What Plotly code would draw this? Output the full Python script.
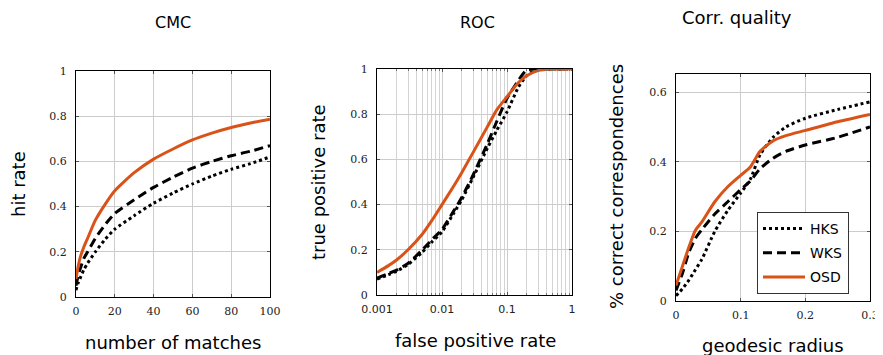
import plotly.graph_objects as go

ORANGE = "#D95319"

# CMC
cmc_x = [0, 1, 2, 4, 6, 10, 15, 20, 30, 40, 50, 60, 70, 80, 90, 100]
cmc_osd = [0.08, 0.13, 0.17, 0.22, 0.26, 0.34, 0.41, 0.47, 0.55, 0.61, 0.655, 0.695, 0.725, 0.75, 0.77, 0.787]
cmc_wks = [0.05, 0.09, 0.12, 0.17, 0.2, 0.26, 0.32, 0.37, 0.43, 0.485, 0.53, 0.57, 0.6, 0.625, 0.645, 0.67]
cmc_hks = [0.03, 0.06, 0.08, 0.12, 0.15, 0.2, 0.255, 0.3, 0.36, 0.415, 0.46, 0.5, 0.535, 0.565, 0.59, 0.62]

# ROC
roc_x = [0.001, 0.0015, 0.002, 0.003, 0.005, 0.007, 0.01, 0.015, 0.02, 0.03, 0.05, 0.07, 0.1, 0.15, 0.2, 0.3, 0.5, 1.0]
roc_osd = [0.1, 0.13, 0.155, 0.2, 0.27, 0.33, 0.4, 0.48, 0.54, 0.63, 0.745, 0.82, 0.877, 0.94, 0.97, 0.993, 1.0, 1.0]
roc_wks = [0.075, 0.095, 0.11, 0.14, 0.2, 0.245, 0.29, 0.37, 0.43, 0.53, 0.67, 0.77, 0.87, 0.95, 0.995, 1.0, 1.0, 1.0]
roc_hks = [0.07, 0.09, 0.105, 0.135, 0.19, 0.235, 0.28, 0.36, 0.42, 0.52, 0.65, 0.73, 0.81, 0.92, 0.97, 1.0, 1.0, 1.0]

# Correspondence quality
cq_x = [0, 0.01, 0.02, 0.03, 0.04, 0.06, 0.08, 0.1, 0.115, 0.13, 0.15, 0.17, 0.2, 0.25, 0.3]
cq_osd = [0.045, 0.1, 0.155, 0.203, 0.227, 0.285, 0.328, 0.361, 0.385, 0.43, 0.46, 0.475, 0.49, 0.515, 0.536]
cq_wks = [0.03, 0.08, 0.14, 0.18, 0.205, 0.25, 0.285, 0.32, 0.345, 0.38, 0.41, 0.43, 0.448, 0.47, 0.5]
cq_hks = [0.015, 0.035, 0.06, 0.09, 0.12, 0.2, 0.26, 0.31, 0.35, 0.42, 0.47, 0.5, 0.525, 0.55, 0.572]

fig = go.Figure()

DOT = "3px,3px"
DASH = "9px,5px"

def add(x, y, n, name, color, dash, show):
    fig.add_trace(go.Scatter(
        x=x, y=y, mode="lines", name=name, showlegend=show, legendgroup=name,
        xaxis="x" if n == 1 else f"x{n}", yaxis="y" if n == 1 else f"y{n}",
        line=dict(color=color, width=3, dash=dash, shape="spline", smoothing=0.6),
    ))

for n, (x, h, w, o) in enumerate([(cmc_x, cmc_hks, cmc_wks, cmc_osd),
                                   (roc_x, roc_hks, roc_wks, roc_osd),
                                   (cq_x, cq_hks, cq_wks, cq_osd)], start=1):
    show = n == 3
    add(x, h, n, "HKS", "black", DOT, show)
    add(x, w, n, "WKS", "black", DASH, show)
    add(x, o, n, "OSD", ORANGE, "solid", show)

# the page body has an 8px margin; figure is placed at (8, 8)
OFF = 8
W, H = 883 - OFF, 355 - OFF
def dx(a, b):
    return [(a - OFF) / W, (b - OFF) / W]
def dy(top, bot):
    return [1 - (bot - OFF) / H, 1 - (top - OFF) / H]
def px(x):
    return (x - OFF) / W
def py(y):
    return 1 - (y - OFF) / H

SERIF = dict(family="DejaVu Serif", size=11, color="#222")
SANS = dict(family="DejaVu Sans", size=11, color="#222")
common = dict(showline=True, linecolor="black", linewidth=1, mirror="ticks",
              ticks="inside", ticklen=3, tickcolor="#555", automargin=False,
              showgrid=True, gridcolor="#cccccc", gridwidth=1, zeroline=False,
              tickfont=SERIF)
xc = dict(common, ticklabelstandoff=4)
yc = dict(common, ticklabelstandoff=6)

layout = dict(
    width=W, height=H, margin=dict(l=0, r=0, t=0, b=0),
    plot_bgcolor="white", paper_bgcolor="white",
    font=dict(family="DejaVu Sans", color="black"),
    xaxis=dict(domain=dx(76, 270), range=[0, 100], tickvals=[0, 20, 40, 60, 80, 100], anchor="y", **xc),
    yaxis=dict(domain=dy(71, 297), range=[0, 1], tickvals=[0, 0.2, 0.4, 0.6, 0.8, 1],
               ticktext=["0", "0.2", "0.4", "0.6", "0.8", "1"], anchor="x", **yc),
    xaxis2=dict(domain=dx(377, 572), type="log", range=[-3, 0], tickvals=[0.001, 0.01, 0.1, 1],
                ticktext=["0.001", "0.01", "0.1", "1"], anchor="y2",
                minor=dict(showgrid=True, gridcolor="#d4d4d4", gridwidth=1, ticks="inside", ticklen=2, tickcolor="#777", dtick="D1"),
                **{k: v for k, v in xc.items() if k != "tickfont"}, tickfont=SANS),
    yaxis2=dict(domain=dy(69, 295), range=[0, 1], tickvals=[0, 0.2, 0.4, 0.6, 0.8, 1],
                ticktext=["0", "0.2", "0.4", "0.6", "0.8", "1"], anchor="x2", **yc),
    xaxis3=dict(domain=dx(676, 870), range=[0, 0.3], tickvals=[0, 0.1, 0.2, 0.3],
                ticktext=["0", "0.1", "0.2", "0.3"], anchor="y3", **xc),
    yaxis3=dict(domain=dy(74, 301), range=[0, 0.652], tickvals=[0, 0.2, 0.4, 0.6],
                ticktext=["0", "0.2", "0.4", "0.6"], anchor="x3", **yc),
    legend=dict(x=px(757), y=py(212), xanchor="left", yanchor="top",
                bordercolor="#333", borderwidth=1, bgcolor="white",
                font=dict(family="DejaVu Sans", size=14), itemwidth=42,
                tracegroupgap=3),
)
fig.update_layout(**layout)

ann = []
def text(x, y, s, size=16, angle=0):
    ann.append(dict(x=px(x), y=py(y), xref="paper", yref="paper", text=s, showarrow=False,
                    font=dict(family="DejaVu Sans", size=size, color="black"), textangle=angle,
                    xanchor="center", yanchor="middle"))

text(173, 22, "CMC", 16)
text(477, 22, "ROC", 16)
text(737, 17, "Corr. quality", 18)
text(173, 342, "number of matches", 18)
text(18, 184, "hit rate", 18, -90)
text(475, 340, "false positive rate", 18)
text(318, 182, "true positive rate", 18, -90)
text(773, 345, "geodesic radius", 18)
text(617, 187, "% correct correspondences", 18, -90)
fig.update_layout(annotations=ann)

fig.write_html("out.html")
